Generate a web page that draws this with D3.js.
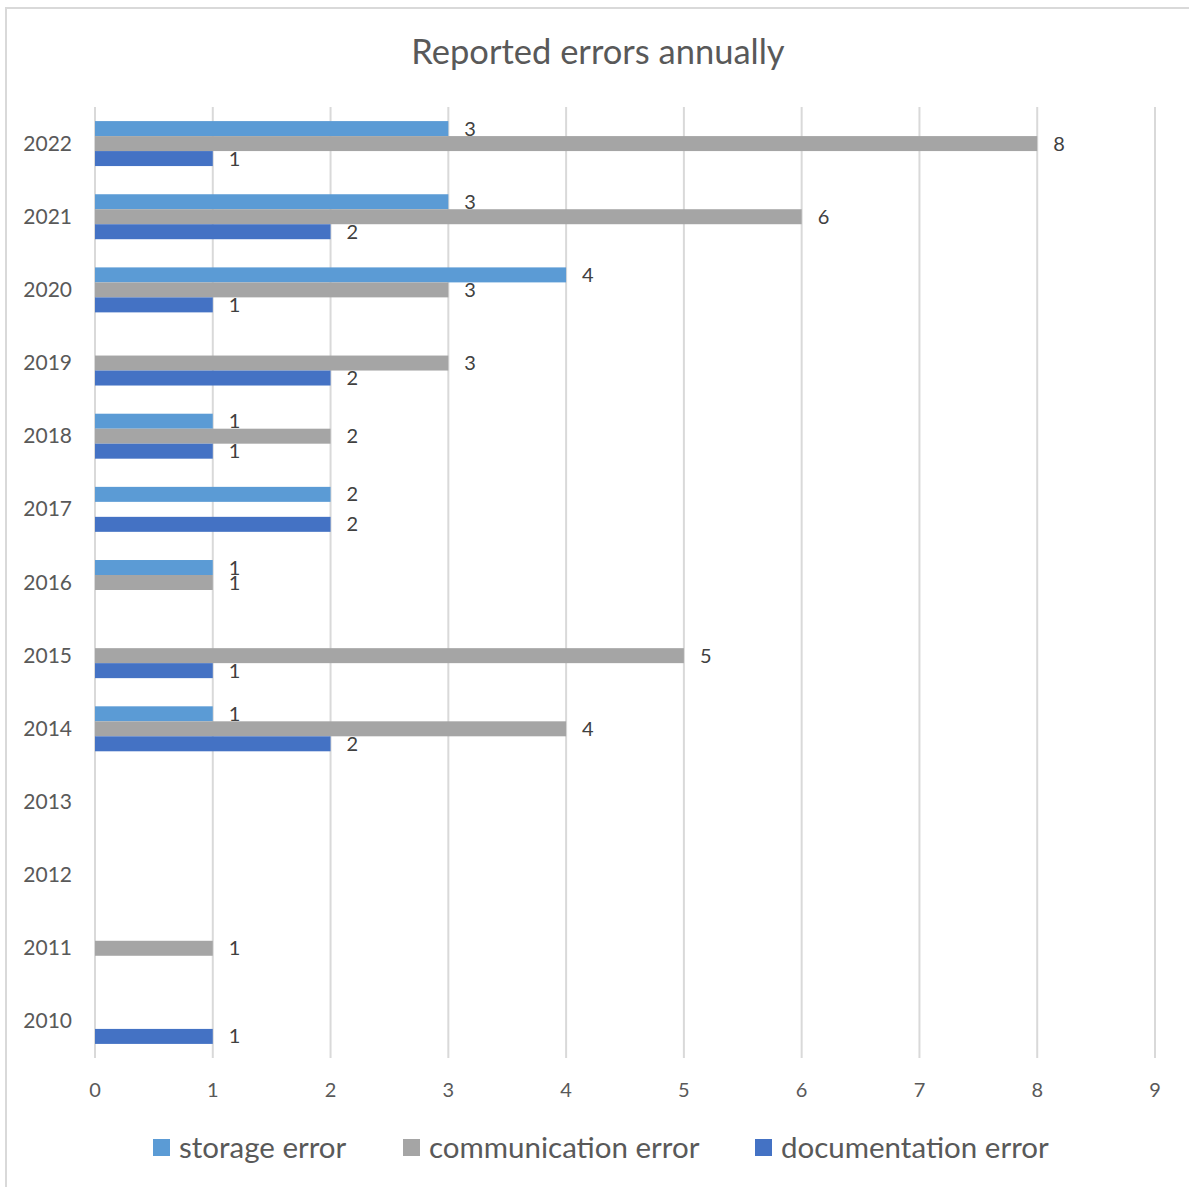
<!DOCTYPE html>
<html><head><meta charset="utf-8">
<script src="https://cdn.jsdelivr.net/npm/d3@7"></script>
<style>body{margin:0;background:#fff}svg{display:block}</style>
</head><body>
<script>
const years = ["2010","2011","2012","2013","2014","2015","2016","2017","2018","2019","2020","2021","2022"];
const seriesNames = ["storage error","communication error","documentation error"];
const storage       = [null,null,null,null,1,null,1,2,1,null,4,3,3];
const communication = [null,1,null,null,4,5,1,null,2,3,3,6,8];
const documentation = [1,null,null,null,2,1,null,2,1,2,1,2,1];
const xTicks = [0,1,2,3,4,5,6,7,8,9];
const colors = ["#5B9BD5","#A5A5A5","#4472C4"];

const W = 1189, H = 1187;
const svg = d3.select("body").append("svg").attr("width", W).attr("height", H);
const font = "Lato, 'Open Sans', sans-serif";
const txt = "#595959";

svg.append("rect").attr("x", 6).attr("y", 8).attr("width", W + 10).attr("height", H + 10)
  .attr("fill", "#fff").attr("stroke", "#D9D9D9").attr("stroke-width", 2);

svg.append("text").attr("x", 598).attr("y", 64).attr("text-anchor", "middle")
  .attr("font-family", font).attr("font-size", 34.5).attr("fill", txt).text("Reported errors annually");

const x = d3.scaleLinear().domain([0, 9]).range([95, 1155]);
const y0 = d3.scaleBand().domain(years.slice().reverse()).range([107, 1058]).paddingInner(0).paddingOuter(0);
const y1 = d3.scaleBand().domain(seriesNames).range([0, y0.bandwidth()]).paddingInner(0).paddingOuter(0.94);

// gridlines
svg.append("g").selectAll("line").data(xTicks).join("line")
  .attr("x1", d => x(d)).attr("x2", d => x(d)).attr("y1", 107).attr("y2", 1058)
  .attr("stroke", "#D9D9D9").attr("stroke-width", 2);

// x tick labels
svg.append("g").selectAll("text").data(xTicks).join("text")
  .attr("x", d => x(d)).attr("y", 1097).attr("text-anchor", "middle")
  .attr("font-family", font).attr("font-size", 20).attr("fill", txt).text(d => d);

// y labels
svg.append("g").selectAll("text").data(years).join("text")
  .attr("x", 72).attr("y", d => y0(d) + y0.bandwidth() / 2 + 7).attr("text-anchor", "end")
  .attr("font-family", font).attr("font-size", 21).attr("fill", txt).text(d => d);

const seriesData = [storage, communication, documentation];
const items = [];
seriesData.forEach((arr, si) => arr.forEach((v, i) => {
  if (v !== null) items.push({ year: years[i], s: seriesNames[si], si, v });
}));

const g = svg.append("g");
seriesNames.forEach((s, si) => {
  const its = items.filter(d => d.si === si);
  g.selectAll(null).data(its).join("rect")
    .attr("x", x(0)).attr("y", d => y0(d.year) + y1(d.s))
    .attr("width", d => x(d.v) - x(0)).attr("height", y1.bandwidth())
    .attr("fill", colors[si]);
  g.selectAll(null).data(its).join("text")
    .attr("x", d => x(d.v) + 16).attr("y", d => y0(d.year) + y1(d.s) + y1.bandwidth() / 2 + 7)
    .attr("font-family", font).attr("font-size", 20).attr("fill", "#404040").text(d => d.v);
});

// legend
const legendX = [153, 403, 755];
const lg = svg.append("g");
seriesNames.forEach((s, i) => {
  lg.append("rect").attr("x", legendX[i]).attr("y", 1139).attr("width", 17).attr("height", 17).attr("fill", colors[i]);
  lg.append("text").attr("x", legendX[i] + 26).attr("y", 1158)
    .attr("font-family", font).attr("font-size", 29.5).attr("fill", txt).text(s);
});
</script>
</body></html>
